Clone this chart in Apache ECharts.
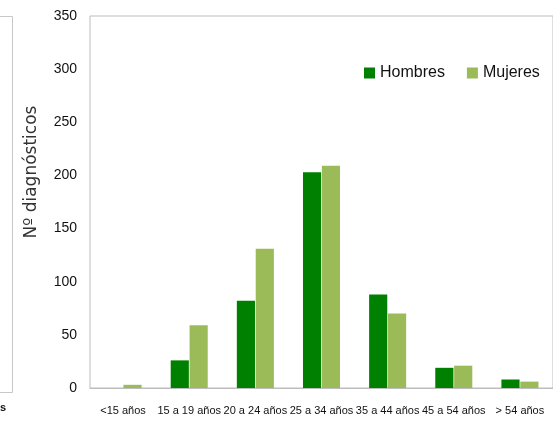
<!DOCTYPE html>
<html>
<head>
<meta charset="utf-8">
<script src="https://cdn.jsdelivr.net/npm/echarts@6/dist/echarts.min.js"></script>
<style>
html,body{margin:0;padding:0;background:#fff;}
#c{width:553px;height:426px;}
</style>
</head>
<body>
<div id="c"></div>
<script>
var categories = ['<15 años', '15 a 19 años', '20 a 24 años', '25 a 34 años', '35 a 44 años', '45 a 54 años', '> 54 años'];
var hombres = [0, 26, 82, 203, 88, 19, 8];
var mujeres = [3, 59, 131, 209, 70, 21, 6];
var yTicks = [0, 50, 100, 150, 200, 250, 300, 350];
var seriesNames = ['Hombres', 'Mujeres'];
var yTitle = 'Nº diagnósticos';

var font = "'Liberation Sans', Arial, sans-serif";
var chart = echarts.init(document.getElementById('c'));
chart.setOption({
  animation: false,
  backgroundColor: '#fff',
  grid: {left: 90, top: 16, width: 471, height: 372, show: true, borderColor: '#bdbdbd', borderWidth: 1, containLabel: false},
  legend: {
    data: seriesNames, orient: 'horizontal', left: 364, top: 65, width: 200, padding: 0,
    itemWidth: 11, itemHeight: 11, itemGap: 22, icon: 'rect',
    textStyle: {fontFamily: font, fontSize: 16, color: '#111'}
  },
  xAxis: {
    type: 'category', data: categories,
    axisLine: {lineStyle: {color: '#bdbdbd'}}, axisTick: {show: false},
    axisLabel: {fontFamily: font, fontSize: 11, color: '#111', margin: 17, interval: 0}
  },
  yAxis: {
    type: 'value', min: yTicks[0], max: yTicks[yTicks.length - 1], interval: 50,
    splitLine: {show: false}, axisLine: {show: false}, axisTick: {show: false},
    axisLabel: {fontFamily: font, fontSize: 14, color: '#111', margin: 13}
  },
  series: [
    {name: seriesNames[0], type: 'bar', data: hombres, barGap: '4%', barCategoryGap: '44%', itemStyle: {color: '#008000'}},
    {name: seriesNames[1], type: 'bar', data: mujeres, itemStyle: {color: '#9bbb59'}}
  ],
  graphic: [
    {type: 'polyline', silent: true, shape: {points: [[0, 16.5], [12.5, 16.5], [12.5, 392.5], [0, 392.5]]}, style: {stroke: '#c8c8c8', fill: null, lineWidth: 1}},
    {type: 'text', left: 0, top: 402, style: {text: 's', font: "bold 11px " + font, fill: '#111'}},
    {type: 'text', x: 32, y: 172, rotation: Math.PI / 2, silent: true,
     style: {text: yTitle, font: "17px 'DejaVu Sans', sans-serif", fill: '#333', align: 'center', verticalAlign: 'middle'}}
  ]
});
</script>
</body>
</html>
